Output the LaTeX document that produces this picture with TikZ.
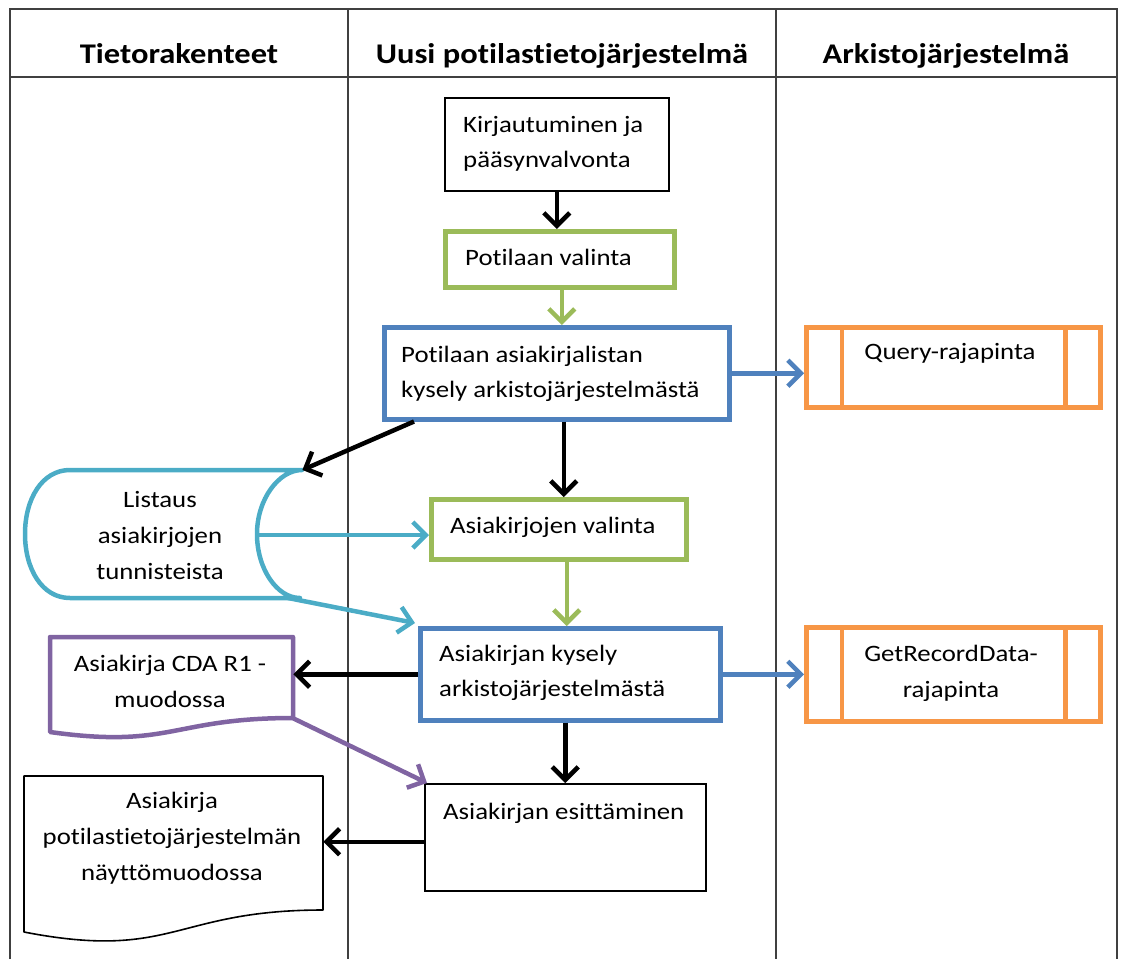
\documentclass[tikz,border=0pt]{standalone}
\usepackage{fontspec}
\setmainfont[FakeStretch=1.14, Ligatures={NoCommon, NoRare, NoDiscretionary}]{Carlito}
\usetikzlibrary{arrows.meta,calc}

\definecolor{cblue}{HTML}{4F81BD}
\definecolor{cgreen}{HTML}{9BBB59}
\definecolor{corange}{HTML}{F79646}
\definecolor{cpurple}{HTML}{8064A2}
\definecolor{cteal}{HTML}{4BACC6}

\begin{document}
\begin{tikzpicture}[x=1pt,y=-1pt,
  tbl/.style={draw=black!75, line width=1.8pt},
  boxbase/.style={rectangle, inner sep=0pt, anchor=north west},
  proc/.style={boxbase, draw, line width=4.5pt},
  plainbox/.style={boxbase, draw=black, line width=1.6pt},
  ghost/.style={boxbase, draw=none},
  lbl/.style={inner sep=0pt, font=\fontsize{23.5}{35}\selectfont, align=left},
  lblc/.style={inner sep=0pt, font=\fontsize{23.5}{36}\selectfont, align=center},
  hdr/.style={inner sep=0pt, anchor=base, font=\fontsize{28.5}{34}\selectfont\bfseries},
  flow/.style={line width=4.5pt, -{Straight Barb[length=13pt,width=26pt]}},
]
\useasboundingbox (0,0) rectangle (1124,959);

% swimlane table
\draw[tbl] (10,959) -- (10,9) -- (1117,9) -- (1117,959);
\draw[tbl] (10,77) -- (1117,77);
\draw[tbl] (348,9) -- (348,959);
\draw[tbl] (776,9) -- (776,959);

\node[hdr] (h1) at (179,63) {Tietorakenteet};
\node[hdr] (h2) at (562,63) {Uusi potilastietojärjestelmä};
\node[hdr] (h3) at (946,63) {Arkistojärjestelmä};

% process boxes
\node[plainbox, minimum width=224, minimum height=93] (kirj) at (444,97) {};
\node[proc, draw=cgreen, minimum width=229, minimum height=56] (pval) at (443,229) {};
\node[proc, draw=cblue, minimum width=345, minimum height=92] (plist) at (382,325) {};
\node[proc, draw=cgreen, minimum width=255, minimum height=60] (aval) at (429,497) {};
\node[proc, draw=cblue, minimum width=300, minimum height=92] (akys) at (418,626) {};
\node[plainbox, minimum width=281, minimum height=107] (esit) at (424,783) {};

% predefined processes
\node[proc, draw=corange, minimum width=294, minimum height=80] (query) at (804,325) {};
\node[proc, draw=corange, minimum width=294, minimum height=94] (getrec) at (804,625) {};
\foreach \n in {query,getrec}{
  \draw[corange, line width=4.5pt] ([xshift=38]\n.north west) -- ([xshift=38]\n.south west);
  \draw[corange, line width=4.5pt] ([xshift=-37]\n.north east) -- ([xshift=-37]\n.south east);
}

% stored data
\node[ghost, minimum width=277, minimum height=128] (lst) at (25,470) {};
\draw[cteal, line width=4.5pt, line join=round]
  (302,470) -- (70,470)
  .. controls (42,470) and (25,499) .. (25,534)
  .. controls (25,569) and (42,598) .. (70,598)
  -- (300,598)
  .. controls (277,598) and (257,569) .. (257,534)
  .. controls (257,499) and (279,470) .. (302,470) -- cycle;
\coordinate (lstin) at (257,535);
\coordinate (lstout) at (288,598);

% documents
\node[ghost, minimum width=243, minimum height=81] (cda) at (50,637) {};
\draw[cpurple, line width=4.5pt, line join=round]
  (50,637) -- (293,637) -- (293,718)
  .. controls (171.5,718) and (171.5,749) .. (50,732) -- cycle;

\node[ghost, minimum width=299, minimum height=134] (doc) at (24,776) {};
\draw[black, line width=1.6pt, line join=round]
  (24,776) -- (323,776) -- (323,910)
  .. controls (173.5,910) and (173.5,961) .. (24,932) -- cycle;

% labels
\node[lbl, anchor=west] (tkirj) at (463,144) {Kirjautuminen ja\\pääsynvalvonta};
\node[lbl, anchor=base west] (tpval) at (465,265) {Potilaan valinta};
\node[lbl, anchor=west] (tplist) at (401,374) {Potilaan asiakirjalistan\\kysely arkistojärjestelmästä};
\node[lbl, anchor=base west] (taval) at (450,533) {Asiakirjojen valinta};
\node[lbl, anchor=west] (takys) at (439,673) {Asiakirjan kysely\\arkistojärjestelmästä};
\node[lbl, anchor=base west] (tesit) at (443,819) {Asiakirjan esittäminen};
\node[lbl, anchor=base] (tquery) at (950,359) {Query-rajapinta};
\node[lblc] (tgetrec) at (951,673) {GetRecordData-\\rajapinta};
\node[lblc] (tlst) at (160,535) {Listaus\\asiakirjojen\\tunnisteista};
\node[lblc] (tcda) at (170,681) {Asiakirja CDA R1 -\\muodossa};
\node[lblc] (tdoc) at (172,838) {Asiakirja\\potilastietojärjestelmän\\näyttömuodossa};

% connectors
\draw[flow] (kirj.south) -- (kirj.south |- pval.north);
\draw[flow, cgreen] ([xshift=2]pval.south) -- ([xshift=2]pval.south |- plist.north);
\draw[flow, cblue] (plist.east) -- (plist.east -| query.west);
\draw[flow] ([xshift=32]plist.south west) -- (lst.north east);
\draw[flow] ([xshift=7]plist.south) -- ([xshift=7]plist.south |- aval.north);
\draw[flow, cteal] (lstin) -- (lstin -| aval.west);
\draw[flow, cteal] (lstout) -- ([shift={(-3,-3)}]akys.north west);
\draw[flow, cgreen] ([xshift=8]aval.south) -- ([xshift=8]aval.south |- akys.north);
\draw[flow] (akys.west) -- (akys.west -| cda.east);
\draw[flow, cblue] (akys.east) -- (akys.east -| getrec.west);
\draw[flow] ([xshift=-5]akys.south) -- ([xshift=-5]akys.south |- esit.north);
\draw[flow, cpurple] (cda.south east) -- ([shift={(3,0)}]esit.north west);
\draw[flow] ([yshift=-4.5pt]esit.west) -- ([yshift=-4.5pt]esit.west -| doc.east);
\end{tikzpicture}
\end{document}
